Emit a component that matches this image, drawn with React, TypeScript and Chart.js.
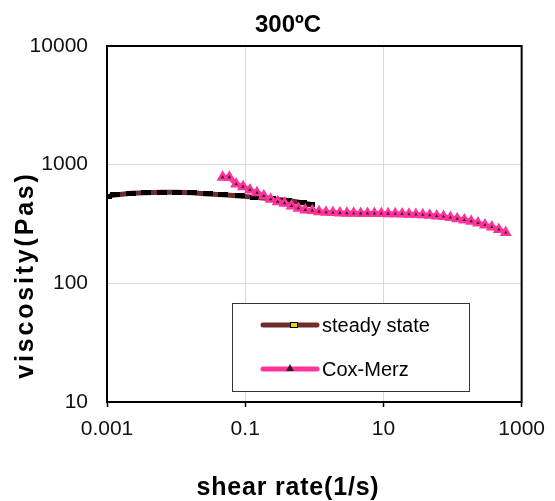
import React, { useEffect, useRef } from "react";
import { Chart, registerables } from "chart.js";

Chart.register(...registerables);

const chartTitle = "300ºC";
const xAxisTitle = "shear rate(1/s)";
const yAxisTitle = "viscosity(Pas)";

const xTickValues = [0.001, 0.1, 10, 1000];
const xTickLabels = ["0.001", "0.1", "10", "1000"];
const yTickValues = [10, 100, 1000, 10000];
const yTickLabels = ["10", "100", "1000", "10000"];

const seriesNames = ["steady state", "Cox-Merz"];

const steadyX = [0.001, 0.0013, 0.00224, 0.00363, 0.00617, 0.0102, 0.017, 0.0288, 0.0479, 0.0832, 0.138, 0.234, 0.407, 0.661, 0.871];
const steadyY = [537, 556, 575, 581, 585, 585, 581, 566, 559, 545, 530, 515, 501, 478, 465];

const coxX = [0.047, 0.059, 0.074, 0.093, 0.117, 0.148, 0.186, 0.234, 0.295, 0.371, 0.468, 0.589, 0.741, 0.933, 1.17, 1.48, 1.86, 2.34, 2.95, 3.71, 4.68, 5.89, 7.41, 9.33, 11.7, 14.8, 18.6, 23.4, 29.5, 37.1, 46.8, 58.9, 74.1, 93.3, 117, 148, 186, 234, 295, 371, 468, 589];
const coxY = [784, 784, 687, 653, 612, 581, 545, 511, 488, 473, 449, 430, 415, 410, 402, 397, 395, 392, 390, 389, 388, 388, 387, 387, 386, 385, 384, 382, 380, 378, 375, 370, 365, 358, 350, 342, 333, 322, 310, 298, 284, 268];

const STEADY_COLOR = "#6E2C2C";
const COX_COLOR = "#FF3399";
const FONT = '"Liberation Sans", Arial, sans-serif';

export default function App() {
  const ref = useRef<HTMLCanvasElement | null>(null);

  useEffect(() => {
    if (!ref.current) return;
    const marker = document.createElement("canvas");
    marker.width = 10;
    marker.height = 5;
    const mctx = marker.getContext("2d")!;
    mctx.fillStyle = "#000";
    mctx.fillRect(0, 0, 10, 5);

    const overlay = {
      id: "overlay",
      afterDraw(chart: any) {
        const { ctx, chartArea: a } = chart;
        ctx.save();
        ctx.strokeStyle = "#000";
        ctx.lineWidth = 2;
        ctx.strokeRect(a.left, a.top, a.right - a.left, a.bottom - a.top);

        const lx = 232, ly = 303, lw = 237, lh = 88;
        ctx.fillStyle = "#fff";
        ctx.fillRect(lx, ly, lw, lh);
        ctx.strokeStyle = "#333";
        ctx.lineWidth = 1;
        ctx.strokeRect(lx + 0.5, ly + 0.5, lw, lh);
        const rows = [325, 369];
        const colors = [STEADY_COLOR, COX_COLOR];
        rows.forEach((yy, i) => {
          ctx.strokeStyle = colors[i];
          ctx.lineWidth = 5;
          ctx.lineCap = "round";
          ctx.beginPath();
          ctx.moveTo(263, yy);
          ctx.lineTo(317, yy);
          ctx.stroke();
          if (i === 0) {
            ctx.fillStyle = "#E0D800";
            ctx.fillRect(291, yy - 2, 6, 4);
            ctx.strokeStyle = "#000";
            ctx.lineWidth = 1;
            ctx.strokeRect(290.5, yy - 2.5, 7, 5);
          } else {
            ctx.fillStyle = "#3a1a2a";
            ctx.beginPath();
            ctx.moveTo(290, yy - 5);
            ctx.lineTo(294, yy + 2);
            ctx.lineTo(286, yy + 2);
            ctx.closePath();
            ctx.fill();
          }
          ctx.fillStyle = "#000";
          ctx.font = `20px ${FONT}`;
          ctx.textAlign = "left";
          ctx.textBaseline = "middle";
          ctx.fillText(seriesNames[i], 322, yy + 1);
        });

        ctx.fillStyle = "#000";
        ctx.textAlign = "center";
        ctx.textBaseline = "middle";
        ctx.font = `bold 24px ${FONT}`;
        ctx.fillText(chartTitle, 288, 25);

        ctx.font = `bold 25px ${FONT}`;
        (ctx as any).letterSpacing = "0.8px";
        ctx.fillText(xAxisTitle, 288, 488);

        ctx.save();
        ctx.translate(26, 275);
        ctx.rotate(-Math.PI / 2);
        ctx.font = `bold 25px ${FONT}`;
        (ctx as any).letterSpacing = "2.8px";
        ctx.fillText(yAxisTitle, 0, 0);
        ctx.restore();
        (ctx as any).letterSpacing = "0px";
        ctx.restore();
      },
    };

    const chart = new Chart(ref.current, {
      type: "line",
      data: {
        datasets: [
          {
            label: seriesNames[0],
            data: steadyX.map((x, i) => ({ x, y: steadyY[i] })),
            borderColor: STEADY_COLOR,
            borderWidth: 5,
            pointStyle: marker as any,
            pointRadius: 5,
            order: 1,
          },
          {
            label: seriesNames[1],
            data: coxX.map((x, i) => ({ x, y: coxY[i] })),
            borderColor: COX_COLOR,
            borderWidth: 5,
            pointStyle: "triangle",
            pointRadius: 4.5,
            pointBorderWidth: 2.5,
            pointBorderColor: COX_COLOR,
            pointBackgroundColor: "#3a1a2a",
            order: 0,
          },
        ],
      },
      options: {
        responsive: false,
        animation: false,
        layout: { padding: { left: 0, top: 46, right: 24, bottom: 0 } },
        plugins: {
          legend: { display: false },
          title: { display: false },
          tooltip: { enabled: false },
        },
        scales: {
          x: {
            type: "logarithmic",
            min: 0.001,
            max: 1000,
            afterBuildTicks: (axis: any) => {
              axis.ticks = xTickValues.map((v) => ({ value: v }));
            },
            afterFit: (scale: any) => {
              scale.height = 99;
            },
            border: { display: false },
            grid: {
              color: "#D9D9D9",
              lineWidth: 1,
              drawTicks: true,
              tickLength: 5,
              tickColor: "#000",
              tickWidth: 1.5,
            },
            ticks: {
              autoSkip: false,
              maxRotation: 0,
              padding: 10,
              color: "#111",
              font: { family: FONT, size: 21 },
              callback: (_v: any, i: number) => xTickLabels[i],
            },
          },
          y: {
            type: "logarithmic",
            min: 10,
            max: 10000,
            afterBuildTicks: (axis: any) => {
              axis.ticks = yTickValues.map((v) => ({ value: v }));
            },
            afterFit: (scale: any) => {
              scale.width = 107;
            },
            border: { display: false },
            grid: {
              color: "#D9D9D9",
              lineWidth: 1,
              drawTicks: false,
            },
            ticks: {
              autoSkip: false,
              padding: 19,
              color: "#111",
              font: { family: FONT, size: 21 },
              callback: (_v: any, i: number) => yTickLabels[i],
            },
          },
        },
      },
      plugins: [overlay],
    } as any);

    return () => chart.destroy();
  }, []);

  return (
    <div style={{ position: "absolute", left: 0, top: 0, width: 555, height: 501, background: "#fff" }}>
      <canvas ref={ref} width={555} height={501} style={{ display: "block" }} />
    </div>
  );
}
